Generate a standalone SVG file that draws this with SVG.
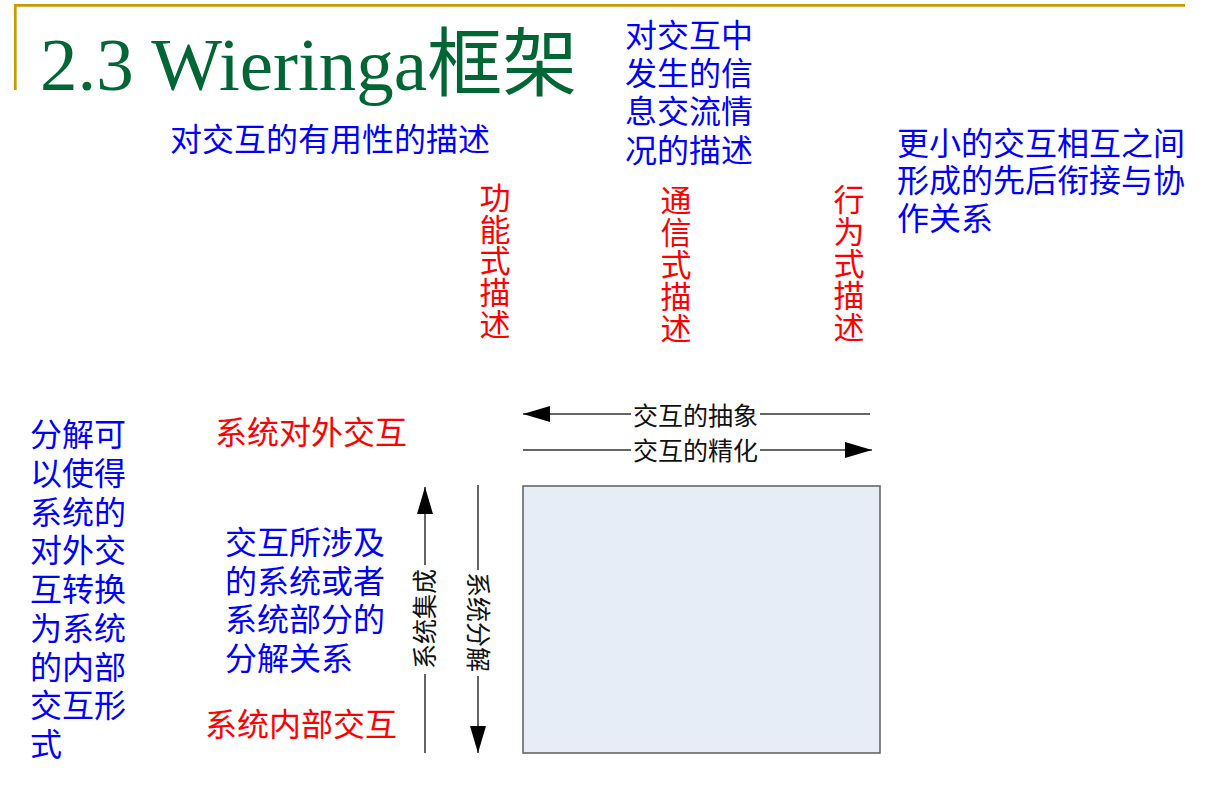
<svg xmlns="http://www.w3.org/2000/svg" width="1218" height="801" viewBox="0 0 1218 801">
  <style>
    .cjk { font-family: "Noto Sans CJK SC", "Liberation Sans", sans-serif; }
    .blue { fill: #0000FF; font-size: 32px; }
    .red { fill: #FF0000; font-size: 32px; }
    .redv { fill: #FF0000; font-size: 31px; writing-mode: vertical-rl; }
    .lbl { fill: #111111; font-size: 25px; }
    .conn { fill: none; stroke: #333333; stroke-width: 1.5; marker-end: url(#head); }
  </style>
  <defs>
    <marker id="head" viewBox="0 0 27 16" refX="27" refY="8" markerWidth="27" markerHeight="16" markerUnits="userSpaceOnUse" orient="auto">
      <path d="M0,0 L27,8 L0,16 z" fill="#000000"/>
    </marker>
  </defs>
  <rect width="1218" height="801" fill="#FFFFFF"/>

  <!-- slide frame rules -->
  <g id="frame" stroke="#CC9900" stroke-width="2.7">
    <line x1="14" y1="5.3" x2="1185" y2="5.3"/>
    <line x1="15.3" y1="4" x2="15.3" y2="90"/>
  </g>

  <g id="title">
    <text x="40" y="90" font-family="'Liberation Serif', 'Noto Sans CJK SC', serif" font-size="75" fill="#006633">2.3 Wieringa框架</text>
  </g>

  <!-- descriptive notes -->
  <g id="note-usefulness" class="cjk blue">
    <text x="170" y="151">对交互的有用性的描述</text>
  </g>
  <g id="note-information" class="cjk blue">
    <text x="625" y="46.5">对交互中<tspan x="625" dy="38">发生的信</tspan><tspan x="625" dy="38.5">息交流情</tspan><tspan x="625" dy="38.5">况的描述</tspan></text>
  </g>
  <g id="note-sequence" class="cjk blue">
    <text x="897" y="154.5">更小的交互相互之间<tspan x="897" dy="37.5">形成的先后衔接与协</tspan><tspan x="897" dy="38">作关系</tspan></text>
  </g>

  <!-- vertical red headings -->
  <g id="functional" class="cjk redv">
    <text x="495" y="182" letter-spacing="0.6">功能式描述</text>
  </g>
  <g id="communication" class="cjk redv">
    <text x="676" y="184.5" letter-spacing="1">通信式描述</text>
  </g>
  <g id="behavioral" class="cjk redv">
    <text x="849" y="183.5" letter-spacing="1">行为式描述</text>
  </g>

  <!-- left side notes -->
  <g id="note-decomposition" class="cjk blue">
    <text x="30" y="446">分解可<tspan x="30" dy="38.75">以使得</tspan><tspan x="30" dy="38.75">系统的</tspan><tspan x="30" dy="38.75">对外交</tspan><tspan x="30" dy="38.75">互转换</tspan><tspan x="30" dy="38.75">为系统</tspan><tspan x="30" dy="38.75">的内部</tspan><tspan x="30" dy="38.75">交互形</tspan><tspan x="30" dy="38.75">式</tspan></text>
  </g>
  <g id="external" class="cjk red">
    <text x="215" y="444">系统对外交互</text>
  </g>
  <g id="note-relation" class="cjk blue">
    <text x="225" y="554">交互所涉及<tspan x="225" dy="38.5">的系统或者</tspan><tspan x="225" dy="38.5">系统部分的</tspan><tspan x="225" dy="38.5">分解关系</tspan></text>
  </g>
  <g id="internal" class="cjk red">
    <text x="205" y="736">系统内部交互</text>
  </g>

  <g id="framework-box">
    <rect x="523" y="486" width="357" height="267" fill="#E6EDF7" stroke="#666666" stroke-width="1.6"/>
  </g>

  <!-- connectors -->
  <g id="connectors">
    <path class="conn" d="M870,414 H760 M631,414 H523"/>
    <path class="conn" d="M523,450 H631 M760,450 H872"/>
    <path class="conn" d="M425,753 V674 M425,565 V487"/>
    <path class="conn" d="M478,485 V570 M478,676 V753"/>
  </g>
  <g id="connector-labels" class="cjk lbl" text-anchor="middle">
    <text x="695.5" y="424.5">交互的抽象</text>
    <text x="695.5" y="459.5">交互的精化</text>
    <text transform="translate(425,619) rotate(-90)" x="0" y="9">系统集成</text>
    <text transform="translate(478,622) rotate(90)" x="0" y="9">系统分解</text>
  </g>
</svg>
